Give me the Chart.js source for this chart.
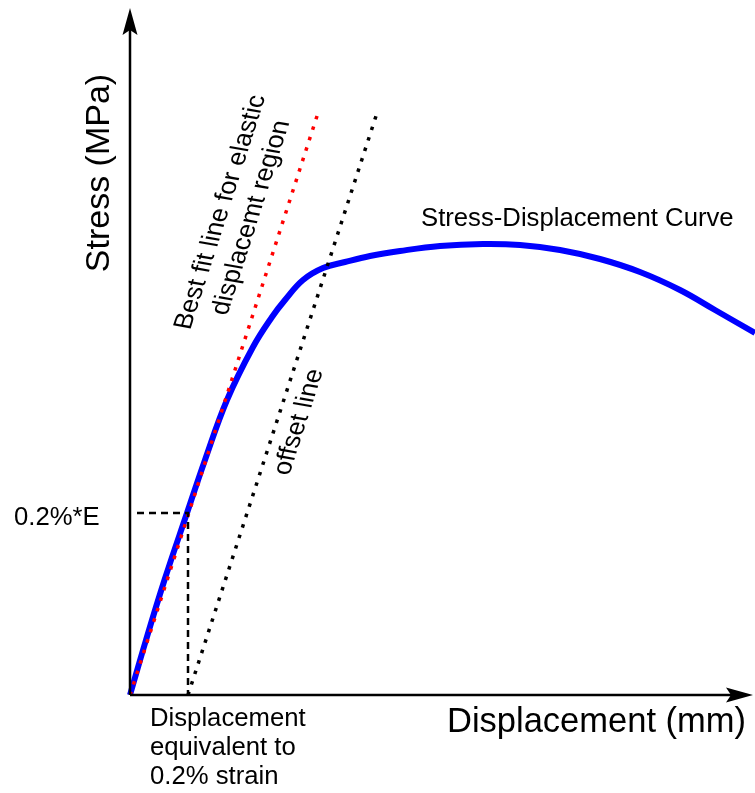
<!DOCTYPE html>
<html>
<head>
<meta charset="utf-8">
<script src="https://cdn.jsdelivr.net/npm/chart.js@4.4.1/dist/chart.umd.min.js"></script>
<style>
  body { margin: 0; background: #fff; }
  canvas { display: block; }
</style>
</head>
<body>
<canvas id="grafico" width="755" height="793"></canvas>
<script>
// curva tensão x deslocamento (unidades arbitrárias)
const deslocamento = [0, 16, 34.5, 57, 75, 97, 123, 142, 155, 173, 193, 215, 240, 270, 310, 353, 390, 430, 470, 510, 550, 585, 625];
const tensao = [0, 55, 115, 182, 235, 295, 348, 378, 395, 415, 427, 433, 439, 444, 449, 451, 450, 445, 436, 423, 405, 385, 362];

// reta de melhor ajuste (região elástica) e reta de offset 0.2%
const ajusteX = [0, 188];
const ajusteY = [0, 582];
const offsetX = [58, 247];
const offsetY = [0, 582];

// linhas tracejadas do ponto 0.2%
const provaX = [7, 58, 58];
const provaY = [182, 182, 0];

const limiteX = 625;
const limiteY = 695;
const pontaEixoX = 623;
const pontaEixoY = 687;

const fonte = '"Liberation Sans", Arial, sans-serif';

function pares(xs, ys) {
  return xs.map((x, i) => ({ x: x, y: ys[i] }));
}

// texto ao longo da reta (leve inclinação das letras, como no original)
function textoInclinado(ctx, px, py, linhas, passo) {
  const ang = Math.atan2(582, 188);
  const inc = 10 * Math.PI / 180;
  ctx.save();
  ctx.setTransform(Math.cos(ang), -Math.sin(ang), Math.cos(inc), Math.sin(inc), px, py);
  ctx.textAlign = 'center';
  linhas.forEach((t, i) => {
    ctx.fillText(t, 0, (i - (linhas.length - 1) / 2) * passo);
  });
  ctx.restore();
}

// desenha eixos com setas e os textos
const anotacoes = {
  id: 'anotacoes',
  afterDatasetsDraw(chart) {
    const ctx = chart.ctx;
    const sx = chart.scales.x;
    const sy = chart.scales.y;
    const x0 = sx.getPixelForValue(0);
    const y0 = sy.getPixelForValue(0);
    const xFim = sx.getPixelForValue(pontaEixoX);
    const yFim = sy.getPixelForValue(pontaEixoY);

    ctx.save();
    ctx.strokeStyle = '#000';
    ctx.fillStyle = '#000';
    ctx.lineWidth = 2.5;
    ctx.beginPath();
    ctx.moveTo(x0, y0);
    ctx.lineTo(x0, yFim + 20);
    ctx.moveTo(x0, y0);
    ctx.lineTo(xFim - 20, y0);
    ctx.stroke();

    // seta vertical
    ctx.beginPath();
    ctx.moveTo(x0, yFim);
    ctx.lineTo(x0 + 7.5, yFim + 27);
    ctx.lineTo(x0, yFim + 22);
    ctx.lineTo(x0 - 7.5, yFim + 27);
    ctx.closePath();
    ctx.fill();

    // seta horizontal
    ctx.beginPath();
    ctx.moveTo(xFim, y0);
    ctx.lineTo(xFim - 27, y0 - 7.5);
    ctx.lineTo(xFim - 22, y0);
    ctx.lineTo(xFim - 27, y0 + 7.5);
    ctx.closePath();
    ctx.fill();

    ctx.textBaseline = 'middle';

    // título do eixo Y
    ctx.save();
    ctx.translate(x0 - 30, sy.getPixelForValue(522));
    ctx.rotate(-Math.PI / 2);
    ctx.textAlign = 'center';
    ctx.font = '34px ' + fonte;
    ctx.fillText('Stress (MPa)', 0, 0);
    ctx.restore();

    // título do eixo X
    ctx.textAlign = 'left';
    ctx.font = '34.5px ' + fonte;
    ctx.fillText('Displacement (mm)', sx.getPixelForValue(317), y0 + 27);

    ctx.font = '25.7px ' + fonte;
    ctx.fillText('0.2%*E', 14, sy.getPixelForValue(177));
    const linhas = ['Displacement', 'equivalent to', '0.2% strain'];
    linhas.forEach((t, i) => {
      ctx.fillText(t, sx.getPixelForValue(20), y0 + 24 + i * 29);
    });
    ctx.fillText('Stress-Displacement Curve', sx.getPixelForValue(291), sy.getPixelForValue(476));

    // textos ao longo das retas
    ctx.font = '26px ' + fonte;
    textoInclinado(ctx, sx.getPixelForValue(106), sy.getPixelForValue(480),
      ['Best fit line for elastic', 'displacemt region'], 31);
    textoInclinado(ctx, sx.getPixelForValue(169), sy.getPixelForValue(273), ['offset line'], 0);

    ctx.restore();
  }
};

new Chart(document.getElementById('grafico'), {
  type: 'scatter',
  data: {
    datasets: [
      {
        data: pares(provaX, provaY),
        showLine: true,
        borderColor: '#000',
        borderWidth: 2.5,
        borderDash: [7, 5],
        pointRadius: 0
      },
      {
        data: pares(offsetX, offsetY),
        showLine: true,
        borderColor: '#000',
        borderWidth: 3.5,
        borderDash: [3.5, 7.5],
        pointRadius: 0
      },
      {
        data: pares(ajusteX, ajusteY),
        showLine: true,
        borderColor: '#ff0000',
        borderWidth: 3.5,
        borderDash: [3.5, 7.5],
        pointRadius: 0
      },
      {
        data: pares(deslocamento, tensao),
        showLine: true,
        borderColor: '#0000ff',
        borderWidth: 6,
        tension: 0.4,
        pointRadius: 0,
        clip: false
      }
    ]
  },
  options: {
    responsive: false,
    animation: false,
    devicePixelRatio: 1,
    layout: { padding: { left: 130, right: 0, top: 0, bottom: 98 } },
    plugins: {
      legend: { display: false },
      tooltip: { enabled: false }
    },
    scales: {
      x: { type: 'linear', min: 0, max: limiteX, display: false },
      y: { type: 'linear', min: 0, max: limiteY, display: false }
    }
  },
  plugins: [anotacoes]
});
</script>
</body>
</html>
